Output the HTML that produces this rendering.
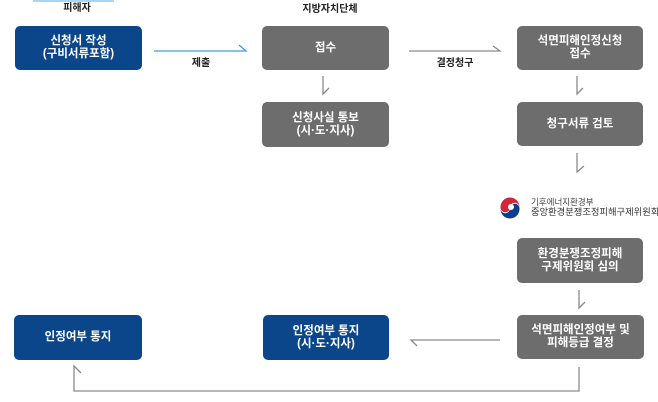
<!DOCTYPE html>
<html>
<head>
<meta charset="utf-8">
<style>
  html, body { margin:0; padding:0; background:#fff; }
  body { width:658px; height:402px; position:relative; overflow:hidden;
    font-family:"Liberation Sans","Noto Sans CJK KR","NanumGothic",sans-serif; }
  .box { position:absolute; border-radius:5px; color:#fff; font-size:11.5px; font-weight:700;
    display:flex; align-items:center; justify-content:center; text-align:center; line-height:13px; }
  .blue { background:#0b468b; }
  .gray { background:#6d6d6d; }
  .lbl { position:absolute; font-size:10px; font-weight:700; color:#222; white-space:nowrap; transform:translateX(-50%); line-height:12px; }
  .logo1 { position:absolute; left:531px; top:197px; font-size:8.5px; color:#444; white-space:nowrap; line-height:10px; }
  .logo2 { position:absolute; left:531px; top:207px; font-size:9.3px; color:#333; white-space:nowrap; line-height:11px; }
</style>
</head>
<body>
<div style="position:absolute;left:33px;top:0;width:81px;height:2px;background:#a9d5f2;"></div>
<div class="lbl" style="left:77px;top:3px;">피해자</div>
<div class="lbl" style="left:330px;top:4px;">지방자치단체</div>

<div class="box blue" style="left:15px;top:26px;width:127px;height:44px;">신청서 작성<br>(구비서류포함)</div>
<div class="box gray" style="left:262px;top:26px;width:127px;height:44px;">접수</div>
<div class="box gray" style="left:262px;top:102px;width:127px;height:45px;">신청사실 통보<br>(시·도·지사)</div>
<div class="box gray" style="left:517px;top:26px;width:126px;height:44px;">석면피해인정신청<br>접수</div>
<div class="box gray" style="left:517px;top:102px;width:126px;height:44px;">청구서류 검토</div>
<div class="box gray" style="left:517px;top:238px;width:126px;height:45px;">환경분쟁조정피해<br>구제위원회 심의</div>
<div class="box blue" style="left:14px;top:315px;width:128px;height:45px;">인정여부 통지</div>
<div class="box blue" style="left:263px;top:315px;width:126px;height:45px;">인정여부 통지<br>(시·도·지사)</div>
<div class="box gray" style="left:517px;top:315px;width:127px;height:44px;">석면피해인정여부 및<br>피해등급 결정</div>

<div class="lbl" style="left:201px;top:58px;">제출</div>
<div class="lbl" style="left:455px;top:58px;">결정청구</div>

<svg width="658" height="402" style="position:absolute;left:0;top:0;" xmlns="http://www.w3.org/2000/svg">
  <g fill="none" stroke-width="1.3">
    <path d="M154 51 H246 L239 45" stroke="#3d9de6"/>
    <path d="M409 51 H500 L493 46" stroke="#8a8a8a"/>
    <path d="M323 76 V94 L329 88" stroke="#8a8a8a"/>
    <path d="M577 76 V94 L583 88" stroke="#8a8a8a"/>
    <path d="M577 153 V172 L584 166" stroke="#8a8a8a"/>
    <path d="M579 290 V308 L585 302" stroke="#8a8a8a"/>
    <path d="M500 340 H411 L417 346" stroke="#8a8a8a"/>
    <path d="M579 367 V391 H74 V366 L81 373" stroke="#8a8a8a"/>
  </g>
  <!-- emblem -->
  <g transform="translate(510,208)">
    <circle r="10" fill="#fff"/>
    <path d="M-9.5 -1 A9.5 9.5 0 0 1 9.5 -1 A4.75 4.75 0 0 0 0 0 A4.75 4.75 0 0 1 -9.5 -1 Z" fill="#d2273a"/>
    <path d="M-9.5 1 A9.5 9.5 0 0 0 9.5 1 A4.75 4.75 0 0 0 0 0 A4.75 4.75 0 0 1 -9.5 1 Z" fill="#0c3f8f"/>
    <circle r="3" cx="1" cy="-1" fill="#fff"/>
  </g>
</svg>
<div class="logo1">기후에너지환경부</div>
<div class="logo2">중앙환경분쟁조정피해구제위원회</div>
</body>
</html>
